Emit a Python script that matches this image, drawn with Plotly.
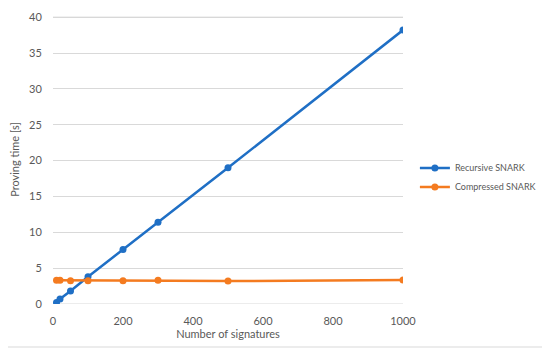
import plotly.graph_objects as go

signatures = [10, 20, 50, 100, 200, 300, 500, 1000]
recursive_snark = [0.2, 0.7, 1.8, 3.8, 7.6, 11.4, 19.0, 38.2]
compressed_snark = [3.3, 3.3, 3.25, 3.25, 3.25, 3.3, 3.2, 3.35]
x_ticks = [0, 200, 400, 600, 800, 1000]
y_ticks = [0, 5, 10, 15, 20, 25, 30, 35, 40]

FONT = "Lato, 'Open Sans', sans-serif"
GRAY = "#595959"
GRID = "#d9d9d9"
CLEAR = "rgba(0,0,0,0)"

# page body adds an 8px offset, so the figure is drawn 8px smaller
W, H = 542, 351
L, R, T, B = 45, 147, 7, 55
PW, PH = W - L - R, H - T - B

fig = go.Figure()
fig.add_trace(go.Scatter(x=signatures, y=recursive_snark, mode="lines+markers",
                         name="Recursive SNARK",
                         line=dict(color="#1f6fc5", width=2.5),
                         marker=dict(size=7, color="#1f6fc5")))
fig.add_trace(go.Scatter(x=signatures, y=compressed_snark, mode="lines+markers",
                         name="Compressed SNARK",
                         line=dict(color="#f47b20", width=2.5),
                         marker=dict(size=7, color="#f47b20")))

edge_lines = [
    dict(type="line", xref="paper", yref="y", x0=0, x1=1,
         y0=y_ticks[0], y1=y_ticks[0], line=dict(color=GRID, width=1), layer="below"),
    dict(type="line", xref="paper", yref="y", x0=0, x1=1,
         y0=y_ticks[-1], y1=y_ticks[-1], line=dict(color=GRID, width=1), layer="above"),
]

fig.update_layout(
    width=W, height=H,
    margin=dict(l=L, r=R, t=T, b=B, autoexpand=False),
    paper_bgcolor="white", plot_bgcolor="white",
    font=dict(family=FONT, size=11, color=GRAY),
    xaxis=dict(range=[0, 1000], tickvals=x_ticks, showgrid=False, zeroline=False,
               showline=False, ticks="outside", ticklen=7, tickcolor=CLEAR,
               automargin=False, ticklabeloverflow="allow",
               tickfont=dict(size=11, color=GRAY),
               title=dict(text="Number of signatures", font=dict(size=11, color=GRAY), standoff=2)),
    yaxis=dict(range=[0, 40.3], tickvals=y_ticks, showgrid=True, gridcolor=GRID,
               gridwidth=1, zeroline=False, showline=False, ticks="outside",
               ticklen=8, tickcolor=CLEAR, automargin=False, ticklabeloverflow="allow",
               tickfont=dict(size=11, color=GRAY),
               title=dict(text="Proving time [s]", font=dict(size=11, color=GRAY), standoff=10)),
    legend=dict(x=1.034, y=0.438, xanchor="left", yanchor="middle",
                font=dict(size=9, color=GRAY), bgcolor=CLEAR,
                itemwidth=30),
    shapes=[dict(type="rect", xref="paper", yref="paper",
                 x0=(-5 - L) / PW, x1=(538 - L) / PW,
                 y0=(H - B - 339) / PH, y1=(H - B + 5) / PH,
                 line=dict(color=GRID, width=1), fillcolor=CLEAR,
                 layer="above")] + edge_lines,
)

fig.write_html("out.html")
